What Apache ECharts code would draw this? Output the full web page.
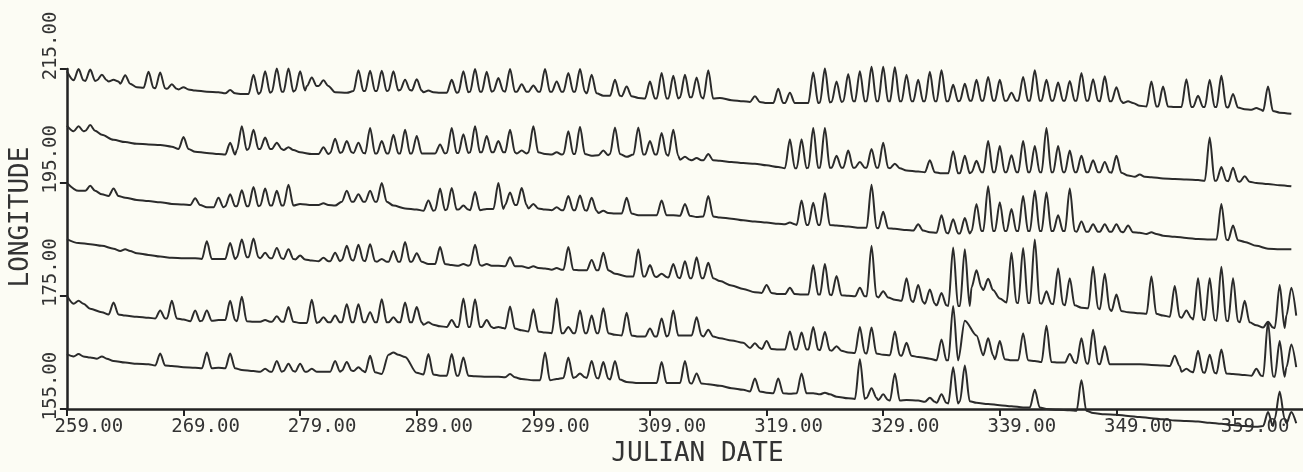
<!DOCTYPE html>
<html>
<head>
<meta charset="utf-8">
<title>Longitude vs Julian date</title>
<script src="https://cdn.jsdelivr.net/npm/echarts@6/dist/echarts.min.js"></script>
<style>
  html, body { margin: 0; padding: 0; background: #fcfcf4; }
  #chart { width: 1303px; height: 472px; }
</style>
</head>
<body>
<div id="chart"></div>
<script>
// one value per day, first entry is day 259
const firstDay = 259
const xTicks = [259, 269, 279, 289, 299, 309, 319, 329, 339, 349, 359]
const yTicks = [155, 175, 195, 215]

// trace 1 (top) - baseline longitude and daily peak height above it
const base1 = [
  214.6, 213.0, 212.9, 213.0, 212.8, 212.4, 211.8, 211.7, 211.6, 211.5,
  211.4, 211.2, 211.0, 210.9, 210.7, 210.6, 210.6, 210.8, 211.0, 211.0,
  211.2, 212.0, 212.0, 210.9, 210.8, 211.1, 211.1, 211.1, 211.2, 211.3,
  211.2, 210.9, 210.8, 210.8, 210.9, 211.0, 211.0, 211.1, 211.0, 211.0,
  211.0, 211.0, 211.0, 211.0, 211.0, 210.7, 210.3, 210.3, 210.2, 209.9,
  209.8, 209.8, 209.8, 210.0, 210.0, 209.8, 209.9, 209.5, 209.3, 209.2,
  209.0, 209.0, 209.0, 209.0, 209.0, 209.1, 209.2, 209.3, 209.3, 209.3,
  209.3, 209.3, 209.3, 209.3, 209.3, 209.3, 209.3, 209.4, 209.4, 209.4,
  209.4, 209.4, 209.4, 209.4, 209.4, 209.4, 209.4, 209.4, 209.4, 209.3,
  209.3, 209.0, 208.5, 208.4, 208.4, 208.3, 208.3, 208.3, 208.3, 208.3,
  208.2, 207.9, 207.8, 207.6, 207.3, 207.1
]
const peak1 = [
  0, 2.0, 2.0, 1.0, 0.3, 1.5, 0, 2.8, 2.8, 0.8,
  0.4, 0, 0, 0, 0.6, 0, 3.4, 3.8, 4.1, 4.1,
  3.4, 1.5, 1.0, 0, 0, 3.7, 3.6, 3.6, 3.4, 1.8,
  2.0, 0.3, 0, 2.3, 3.7, 4.0, 3.5, 2.3, 4.0, 1.3,
  1.1, 4.0, 1.8, 3.3, 4.0, 3.3, 0, 2.8, 1.7, 0,
  3.0, 4.5, 4.0, 4.0, 3.5, 5.0, 0, 0, 0, 1.0,
  0, 2.5, 1.8, 0, 5.4, 6.0, 3.6, 4.8, 5.3, 6.1,
  6.1, 6.0, 4.7, 3.8, 5.2, 5.5, 2.9, 3.0, 3.7, 4.2,
  3.7, 1.4, 4.2, 5.4, 3.7, 3.2, 3.5, 4.9, 3.8, 4.4,
  2.5, 0.3, 0, 4.4, 3.5, 0, 4.9, 2.0, 4.8, 5.5,
  2.4, 0, 0.3, 4.3, 0, 0
]

// trace 2
const base2 = [
  205.0, 204.0, 204.1, 203.4, 202.5, 202.1, 201.8, 201.7, 201.6, 201.3,
  200.9, 200.4, 200.2, 200.0, 199.9, 200.7, 200.9, 200.9, 200.9, 200.7,
  200.3, 200.0, 200.0, 200.2, 200.3, 200.2, 200.1, 200.1, 200.1, 200.1,
  200.1, 200.1, 200.1, 200.2, 200.2, 200.3, 200.3, 200.3, 200.3, 200.1,
  200.3, 200.0, 199.9, 200.0, 200.0, 199.7, 199.8, 200.0, 199.5, 199.9,
  199.9, 199.9, 199.7, 199.0, 198.9, 198.9, 198.8, 198.6, 198.4, 198.3,
  198.0, 197.7, 197.5, 197.5, 197.6, 197.6, 197.6, 197.6, 197.6, 197.6,
  197.6, 197.5, 197.1, 196.9, 196.8, 196.6, 196.6, 196.6, 196.8, 196.8,
  196.8, 196.8, 196.8, 196.8, 196.8, 196.8, 196.8, 196.8, 196.8, 196.8,
  196.7, 196.2, 196.0, 195.9, 195.7, 195.6, 195.5, 195.4, 195.3, 195.3,
  195.2, 195.1, 194.9, 194.7, 194.5, 194.3
]
const peak2 = [
  0, 0.9, 1.0, 0, 0, 0, 0, 0, 0, 0,
  2.1, 0, 0, 0, 2.1, 4.2, 3.4, 2.0, 1.1, 0.5,
  0, 0, 1.2, 2.5, 2.0, 1.8, 4.5, 2.2, 3.3, 4.2,
  3.1, 0, 1.6, 4.4, 3.3, 4.6, 2.9, 2.0, 4.0, 0.5,
  4.6, 0, 0.4, 4.0, 4.8, 0, 0.8, 4.7, 0, 4.8,
  2.4, 3.8, 4.6, 0.5, 0.4, 1.1, 0, 0, 0, 0,
  0, 0, 5.1, 5.1, 7.0, 7.0, 2.1, 3.0, 1.0, 3.3,
  4.4, 0.8, 0, 0, 2.1, 0, 3.9, 3.1, 2.0, 5.5,
  4.6, 3.0, 5.5, 4.6, 7.8, 4.6, 3.8, 2.9, 2.1, 1.8,
  3.0, 0, 0.4, 0, 0, 0, 0, 0, 7.6, 2.4,
  2.4, 1.0, 0, 0, 0, 0
]

// trace 3
const base3 = [
  194.9, 193.5, 193.5, 192.9, 192.6, 192.3, 191.9, 191.7, 191.5, 191.2,
  191.1, 191.0, 190.6, 190.6, 190.8, 190.8, 190.8, 190.9, 190.9, 190.9,
  191.2, 191.0, 191.0, 190.9, 191.6, 191.6, 191.6, 191.6, 190.9, 190.4,
  190.2, 190.0, 190.1, 190.2, 190.2, 190.1, 190.3, 190.3, 191.0, 191.0,
  190.4, 190.2, 190.1, 190.1, 190.1, 190.0, 189.6, 189.5, 189.5, 189.2,
  189.2, 189.2, 189.2, 189.1, 188.9, 189.0, 188.8, 188.6, 188.3, 188.1,
  187.9, 187.7, 187.6, 187.5, 187.5, 187.5, 187.4, 187.2, 187.0, 187.0,
  186.9, 186.8, 186.6, 186.5, 186.2, 186.1, 186.0, 186.0, 186.4, 186.4,
  186.4, 186.4, 186.4, 186.4, 186.4, 186.4, 186.4, 186.3, 186.3, 186.3,
  186.3, 186.2, 186.1, 185.9, 185.6, 185.4, 185.2, 185.0, 184.9, 184.9,
  184.8, 184.5, 183.8, 183.3, 183.2, 183.2
]
const peak3 = [
  0, 0, 0.9, 0, 1.3, 0, 0, 0, 0, 0,
  0, 1.2, 0, 1.7, 2.1, 2.8, 3.4, 3.0, 2.6, 3.7,
  0, 0, 0.3, 0, 1.9, 1.3, 1.9, 3.3, 0, 0,
  0, 1.8, 3.8, 3.8, 0.7, 3.2, 0, 4.6, 2.2, 3.0,
  0.8, 0, 0.5, 2.5, 2.6, 2.3, 0.4, 0, 2.8, 0,
  0, 2.6, 0, 2.1, 0, 3.6, 0, 0, 0, 0,
  0, 0, 0.3, 4.3, 3.9, 5.6, 0, 0, 0, 7.6,
  2.9, 0, 0, 1.1, 0, 3.1, 2.5, 2.7, 4.8, 7.9,
  5.1, 3.9, 6.2, 7.1, 6.8, 2.8, 7.5, 1.8, 1.3, 1.3,
  1.3, 1.2, 0, 0.3, 0, 0, 0, 0, 0, 6.3,
  2.6, 0, 0, 0, 0, 0
]

// trace 4
const base4 = [
  185.0, 184.3, 184.1, 183.8, 183.3, 182.9, 182.5, 182.2, 181.9, 181.7,
  181.6, 181.6, 181.5, 181.5, 181.5, 181.8, 181.8, 181.6, 181.6, 181.5,
  181.4, 181.2, 181.1, 181.1, 181.3, 181.2, 181.1, 181.0, 181.0, 181.0,
  181.0, 180.6, 180.6, 180.4, 180.3, 180.4, 180.3, 180.3, 180.2, 180.2,
  179.9, 179.8, 179.6, 179.6, 179.5, 179.5, 179.5, 178.9, 178.4, 178.4,
  178.4, 178.3, 178.2, 178.1, 178.1, 178.1, 177.6, 176.8, 176.2, 175.6,
  175.5, 175.3, 175.3, 175.2, 175.2, 175.2, 175.1, 175.0, 174.9, 174.9,
  174.7, 174.3, 174.1, 173.9, 173.6, 173.3, 173.2, 173.2, 176.5, 176.0,
  174.5, 173.8, 173.7, 173.7, 173.6, 173.5, 173.3, 172.9, 172.8, 172.6,
  172.3, 172.1, 171.9, 171.8, 171.5, 171.3, 171.1, 170.8, 170.7, 170.6,
  170.5, 170.3, 169.8, 169.4, 169.3, 171.5
]
const peak4 = [
  0, 0, 0, 0, 0, 0.3, 0, 0, 0, 0,
  0, 0, 3.1, 0, 2.8, 3.1, 3.3, 1.0, 1.8, 1.7,
  0.7, 0, 0.6, 1.5, 2.5, 2.8, 3.0, 0.5, 1.9, 3.5,
  1.5, 0, 3.0, 0, 0.3, 3.6, 0.3, 0, 1.6, 0,
  0.3, 0, 0.3, 4.0, 0, 1.8, 3.1, 0, 0, 4.8,
  2.0, 0.6, 2.4, 3.0, 3.7, 2.7, 0, 0, 0, 0,
  1.4, 0, 1.1, 0, 5.2, 5.4, 3.4, 0, 1.5, 8.9,
  1.1, 0, 4.0, 3.0, 2.5, 2.2, 10.3, 10.0, 3.0, 2.0,
  0, 8.8, 9.7, 11.2, 2.2, 6.3, 4.8, 0, 7.3, 6.3,
  2.9, 0, 0, 6.6, 0, 5.4, 1.3, 7.3, 7.4, 9.5,
  7.6, 3.8, 0, 1.0, 7.6, 4.9
]

// trace 5
const base5 = [
  175.0, 173.6, 172.7, 172.1, 171.7, 171.5, 171.3, 171.1, 171.0, 171.0,
  170.8, 170.5, 170.6, 170.7, 170.7, 170.5, 170.4, 170.4, 170.4, 170.4,
  170.2, 170.2, 170.3, 170.3, 170.3, 170.3, 170.3, 170.3, 170.3, 170.3,
  170.3, 169.9, 169.6, 169.5, 169.5, 169.5, 169.5, 169.3, 169.2, 168.9,
  168.7, 168.5, 168.4, 168.4, 168.4, 168.4, 168.4, 168.1, 168.0, 167.8,
  167.8, 167.8, 168.0, 168.0, 168.0, 167.8, 167.5, 167.1, 166.7, 165.8,
  165.6, 165.5, 165.5, 165.5, 165.5, 165.4, 165.3, 165.0, 164.9, 164.8,
  164.6, 164.5, 164.4, 164.2, 163.9, 163.6, 163.6, 170.6, 168.0, 164.5,
  163.8, 163.6, 163.6, 163.5, 163.3, 163.2, 163.2, 163.1, 163.0, 162.9,
  162.9, 162.9, 162.9, 162.8, 162.7, 162.6, 161.6, 161.5, 161.4, 161.3,
  161.2, 161.0, 160.9, 160.8, 160.7, 162.4
]
const peak5 = [
  0, 0.5, 0, 0, 2.1, 0, 0, 0, 1.4, 3.1,
  0, 1.9, 1.8, 0, 3.4, 4.3, 0, 0.3, 1.0, 2.6,
  0, 4.1, 0.9, 1.2, 3.2, 3.2, 1.8, 4.1, 0.9, 3.5,
  2.7, 0.4, 0, 1.2, 5.0, 4.9, 1.2, 0.2, 3.9, 0,
  3.9, 0, 6.1, 1.1, 4.0, 3.1, 4.4, 0, 4.0, 0,
  1.4, 3.2, 4.4, 0, 3.2, 1.2, 0, 0, 0, 0.8,
  1.4, 0, 3.2, 3.0, 4.0, 3.2, 0.8, 0, 4.6, 4.6,
  0, 4.2, 2.3, 0, 0, 3.7, 9.6, 0, 0, 3.0,
  3.2, 0, 4.8, 0, 6.4, 0, 1.5, 4.4, 6.0, 3.2,
  0, 0, 0, 0, 0, 1.8, 0.5, 3.8, 3.2, 4.2,
  0, 0, 1.2, 9.6, 6.3, 4.0
]

// trace 6 (bottom)
const base6 = [
  164.7, 164.3, 164.1, 163.9, 163.5, 163.2, 163.0, 162.9, 162.7, 162.6,
  162.4, 162.3, 162.2, 162.3, 162.2, 161.9, 161.7, 161.6, 161.6, 161.7,
  161.6, 161.6, 161.6, 161.6, 161.8, 161.7, 161.5, 161.2, 164.6, 164.2,
  161.4, 161.1, 160.9, 160.9, 160.9, 160.8, 160.7, 160.7, 160.6, 160.3,
  160.1, 160.1, 160.3, 160.5, 160.6, 160.5, 160.4, 160.2, 159.8, 159.6,
  159.6, 159.6, 159.6, 159.6, 159.5, 159.4, 159.1, 158.7, 158.4, 158.1,
  157.9, 157.8, 157.7, 157.8, 157.8, 157.6, 157.2, 156.9, 156.8, 157.0,
  156.6, 156.5, 156.6, 156.5, 156.3, 156.1, 156.0, 156.4, 156.1, 155.9,
  155.7, 155.5, 155.3, 155.3, 155.0, 154.9, 154.8, 154.7, 154.3, 154.1,
  154.0, 153.8, 153.6, 153.4, 153.2, 153.0, 152.9, 152.8, 152.6, 152.4,
  152.2, 152.0, 151.9, 152.0, 153.3, 152.5
]
const peak6 = [
  0, 0.4, 0, 0.4, 0, 0, 0, 0, 2.1, 0,
  0, 0, 2.8, 0, 2.6, 0, 0, 0.5, 1.9, 1.3,
  1.4, 0.5, 0, 1.9, 1.5, 0.7, 2.9, 0, 0.4, 0,
  0, 3.6, 0, 3.8, 3.2, 0, 0, 0, 0.6, 0,
  0, 4.9, 0, 3.6, 0.7, 3.0, 2.9, 3.3, 0, 0,
  0, 3.7, 0, 3.9, 1.8, 0, 0, 0, 0, 2.3,
  0, 2.6, 0, 3.5, 0, 0.3, 0, 0, 7.0, 1.7,
  1.0, 4.8, 0, 0, 0.7, 1.5, 6.4, 6.3, 0, 0,
  0, 0, 0, 3.1, 0, 0, 0, 5.4, 0, 0,
  0, 0, 0, 0, 0, 0, 0, 0, 0, 0,
  0, 0, 0, 2.5, 4.8, 2.0
]

const traces = [
  [base1, peak1], [base2, peak2], [base3, peak3],
  [base4, peak4], [base5, peak5], [base6, peak6]
]

const mono = 'DejaVu Sans Mono'
const ink = '#2b2b2b'

// each daily peak drawn as a narrow hump sitting on that day's baseline
function toPoints(base, peak) {
  const pts = []
  base.forEach((b, i) => {
    const d = firstDay + i
    if (peak[i] > 0) {
      pts.push([d - 0.42, b], [d, b + peak[i]], [d + 0.42, b])
    } else {
      pts.push([d, b])
    }
  })
  return pts
}

const chart = echarts.init(document.getElementById('chart'), null, { renderer: 'canvas' })

chart.setOption({
  backgroundColor: '#fcfcf4',
  animation: false,
  grid: { left: 56, right: 0, top: 69, bottom: 52 },
  xAxis: {
    type: 'value',
    min: 259,
    max: 365,
    name: 'JULIAN DATE',
    nameLocation: 'middle',
    nameGap: 24,
    nameTextStyle: { fontFamily: mono, fontSize: 26, color: '#333', padding: [0, 0, 0, 25] },
    axisLine: { lineStyle: { color: '#222', width: 2.5 } },
    axisTick: { customValues: xTicks, length: 7, lineStyle: { color: '#222', width: 2 } },
    axisLabel: {
      customValues: xTicks,
      formatter: (v) => v.toFixed(2),
      fontFamily: mono,
      fontSize: 19,
      color: '#333',
      margin: 8,
      padding: [0, 0, 0, 44]
    },
    splitLine: { show: false }
  },
  yAxis: {
    type: 'value',
    min: 155,
    max: 215,
    name: 'LONGITUDE',
    nameLocation: 'middle',
    nameGap: 24,
    nameTextStyle: { fontFamily: mono, fontSize: 26, color: '#333', padding: [0, 0, 0, 44] },
    axisLine: { show: true, lineStyle: { color: '#222', width: 2.5 } },
    axisTick: { show: true, customValues: yTicks, length: 7, lineStyle: { color: '#222', width: 2 } },
    axisLabel: {
      customValues: yTicks,
      formatter: (v) => v.toFixed(2),
      rotate: 90,
      fontFamily: mono,
      fontSize: 19,
      color: '#333',
      margin: 6,
      padding: [0, 0, 0, 46]
    },
    splitLine: { show: false }
  },
  series: traces.map(([base, peak]) => ({
    type: 'line',
    data: toPoints(base, peak),
    symbol: 'none',
    smooth: 0.3,
    smoothMonotone: 'x',
    clip: false,
    silent: true,
    lineStyle: { color: ink, width: 2 }
  }))
})
</script>
</body>
</html>
